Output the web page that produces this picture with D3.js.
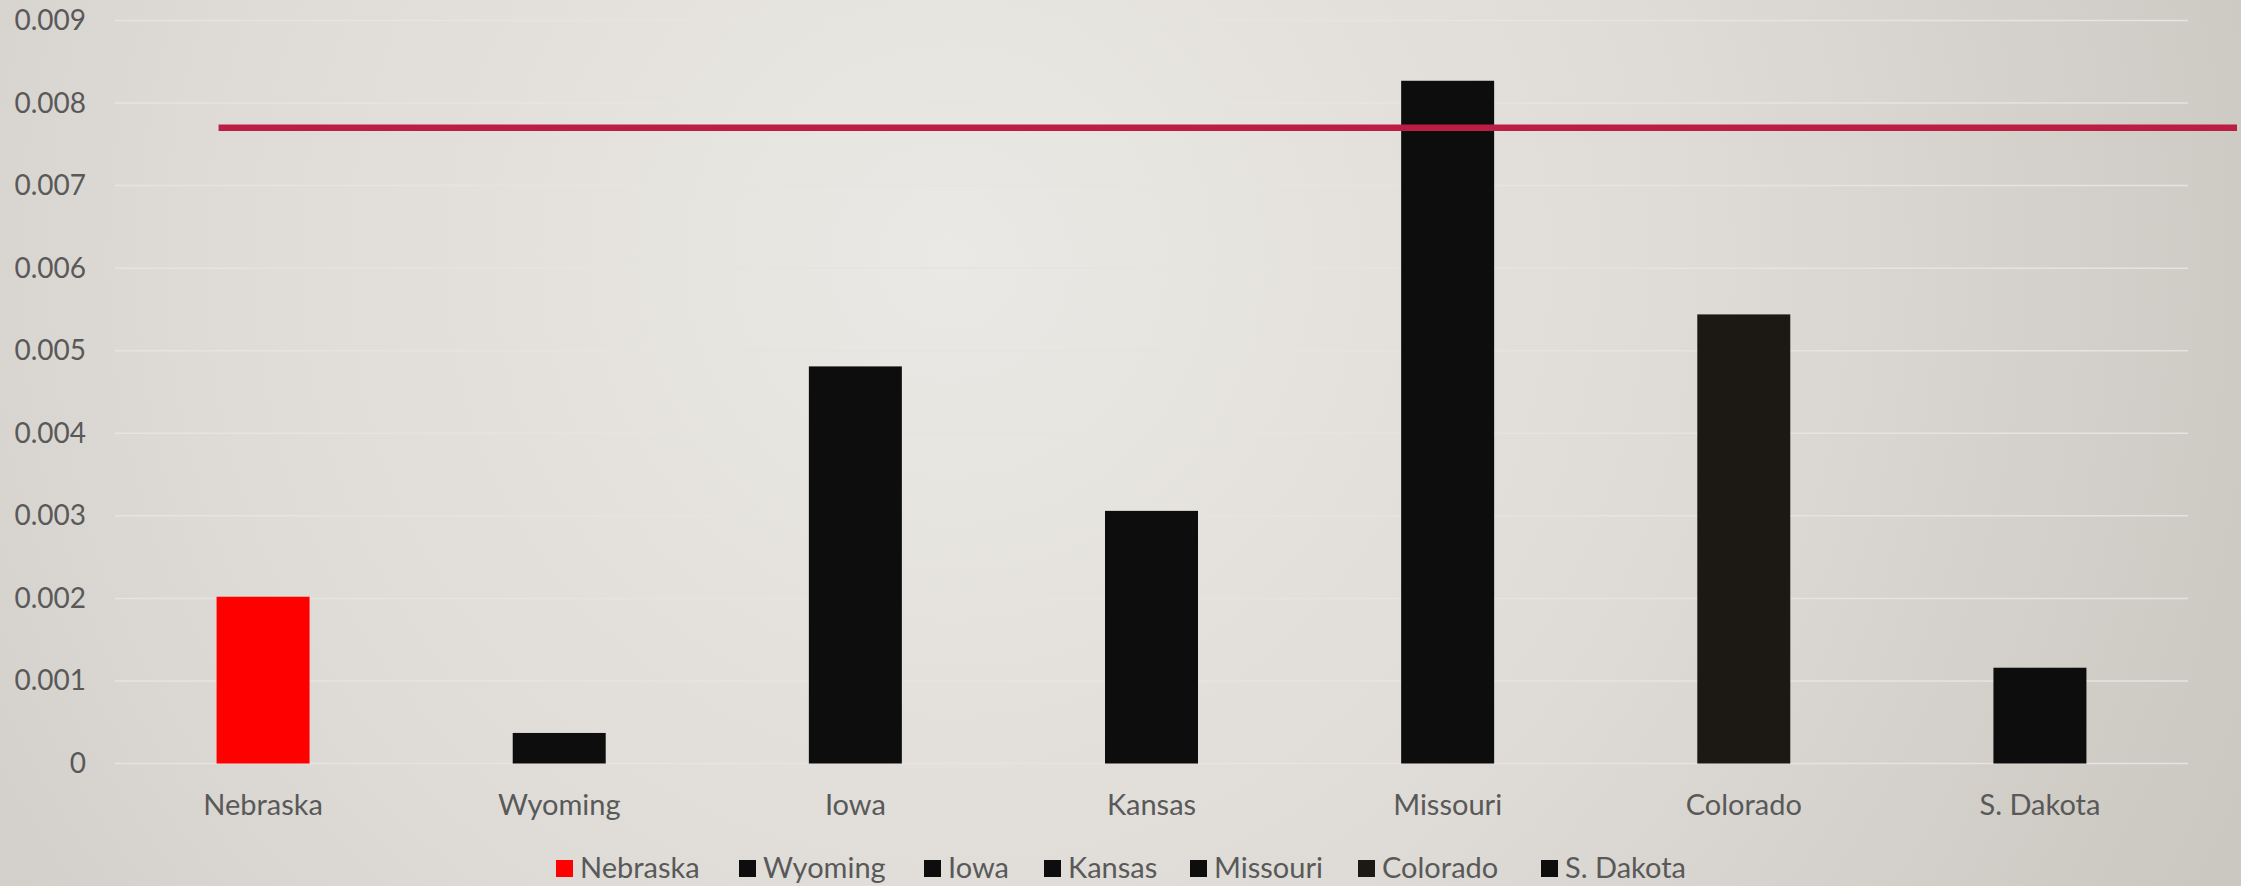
<!DOCTYPE html>
<html>
<head>
<meta charset="utf-8">
<script src="https://cdn.jsdelivr.net/npm/d3@7"></script>
<style>
  html, body { margin: 0; padding: 0; }
  body { width: 2241px; height: 886px; overflow: hidden; }
  svg { display: block; font-family: Lato, "Open Sans", sans-serif; }
</style>
</head>
<body>
<svg id="chart" width="2241" height="886"></svg>
<script>
// States compared
const states = ["Nebraska", "Wyoming", "Iowa", "Kansas", "Missouri", "Colorado", "S. Dakota"];
// Rate per state
const rates = [0.00202, 0.00037, 0.00481, 0.00306, 0.00827, 0.00544, 0.00116];
// Fill per state
const barColors = ["#ff0000", "#0d0d0d", "#0d0d0d", "#0d0d0d", "#0d0d0d", "#1c1915", "#0d0d0d"];
// Reference level drawn across the chart
const referenceRate = 0.0077;
// Y axis ticks
const yTicks = [0, 0.001, 0.002, 0.003, 0.004, 0.005, 0.006, 0.007, 0.008, 0.009];

const W = 2241, H = 886;
const plot = { left: 115, right: 2188, top: 20.5, bottom: 763.5 };

const svg = d3.select("#chart");

// Soft vignette background
const defs = svg.append("defs");
const bg = defs.append("radialGradient")
  .attr("id", "bg").attr("gradientUnits", "userSpaceOnUse")
  .attr("cx", 950).attr("cy", 260).attr("r", 1400)
  .attr("fx", 950).attr("fy", 260);
bg.append("stop").attr("offset", "0%").attr("stop-color", "#ebe9e5");
bg.append("stop").attr("offset", "55%").attr("stop-color", "#dedbd6");
bg.append("stop").attr("offset", "100%").attr("stop-color", "#cbc7c1");
svg.append("rect").attr("width", W).attr("height", H).attr("fill", "url(#bg)");

const x = d3.scaleBand()
  .domain(states)
  .range([plot.left, plot.right])
  .paddingInner(0.686)
  .paddingOuter(0.343);

const y = d3.scaleLinear()
  .domain([0, 0.009])
  .range([plot.bottom, plot.top]);

// Gridlines
svg.append("g")
  .selectAll("line")
  .data(yTicks)
  .join("line")
  .attr("x1", plot.left).attr("x2", plot.right)
  .attr("y1", d => y(d)).attr("y2", d => y(d))
  .attr("stroke", "#e6e4e1").attr("stroke-width", 1.5);

// Y axis labels
const yAxis = d3.axisLeft(y).tickValues(yTicks).tickSize(0).tickPadding(0)
  .tickFormat(d => d === 0 ? "0" : d3.format(".3f")(d));
const gy = svg.append("g").attr("transform", "translate(86,0)").call(yAxis);
gy.select(".domain").remove();
gy.selectAll("text")
  .attr("font-size", 28).attr("fill", "#595959")
  .attr("font-family", "Lato, 'Open Sans', sans-serif");

// Bars
svg.append("g")
  .selectAll("rect")
  .data(states)
  .join("rect")
  .attr("x", d => x(d))
  .attr("width", x.bandwidth())
  .attr("y", (d, i) => y(rates[i]))
  .attr("height", (d, i) => y(0) - y(rates[i]))
  .attr("fill", (d, i) => barColors[i]);

// Reference line
svg.append("line")
  .attr("x1", x(states[0]) + 2)
  .attr("x2", W - 4)
  .attr("y1", y(referenceRate)).attr("y2", y(referenceRate))
  .attr("stroke", "#bc1d44").attr("stroke-width", 6.5);

// X axis labels
const xAxis = d3.axisBottom(x).tickSize(0).tickPadding(0);
const gx = svg.append("g").attr("transform", `translate(0,${plot.bottom + 51})`).call(xAxis);
gx.select(".domain").remove();
gx.selectAll("text")
  .attr("font-size", 29).attr("fill", "#595959").attr("dy", 0)
  .attr("font-family", "Lato, 'Open Sans', sans-serif");

// Legend
const legendX = [556, 739, 924, 1044, 1190, 1358, 1541];
const legend = svg.append("g");
const items = legend.selectAll("g")
  .data(states)
  .join("g")
  .attr("transform", (d, i) => `translate(${legendX[i]},0)`);
items.append("rect")
  .attr("x", 0).attr("y", 860).attr("width", 17).attr("height", 17)
  .attr("fill", (d, i) => barColors[i]);
items.append("text")
  .attr("x", 24).attr("y", 878)
  .attr("font-size", 29).attr("fill", "#595959")
  .text(d => d);
</script>
</body>
</html>
